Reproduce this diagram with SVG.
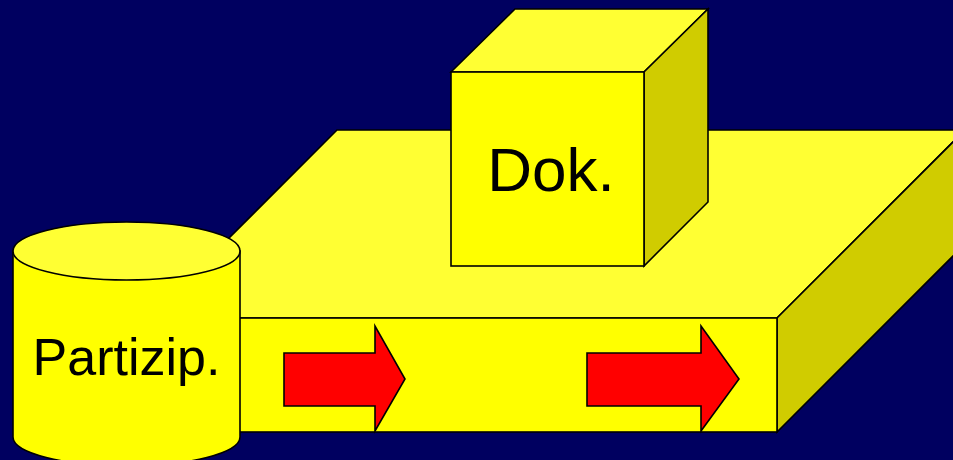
<svg xmlns="http://www.w3.org/2000/svg" width="953" height="460" viewBox="0 0 953 460">
<style>
.s{stroke:#000;stroke-width:1.6;stroke-linejoin:miter}
.top{fill:#FFFF33}
.front{fill:#FFFF00}
.side{fill:#D0CC00}
.arr{fill:#FF0000;stroke:#000;stroke-width:1.6}
.lbl{font-family:"Liberation Sans",Arial,sans-serif;fill:#000;text-anchor:middle}
</style>
<rect width="953" height="460" fill="#000060"/>
<g id="slab">
<polygon class="s top" points="337,130 965,130 777,318 149,318"/>
<polygon class="s side" points="777,318 965,130 965,244 777,432"/>
<rect class="s front" x="149" y="318" width="628" height="114"/>
</g>
<g id="dok">
<polygon class="s top" points="451,72 515,9 708,9 644,72"/>
<polygon class="s side" points="644,72 708,9 708,202 644,266"/>
<rect class="s front" x="451" y="72" width="193" height="194"/>
<text class="lbl" x="551" y="191" font-size="62">Dok.</text>
</g>
<g id="partizip">
<path class="s front" d="M13,251 L13,437 A113.5,29 0 0 0 240,437 L240,251 Z"/>
<ellipse class="s top" cx="126.5" cy="251" rx="113.5" ry="29"/>
<text class="lbl" x="126.5" y="375" font-size="52">Partizip.</text>
</g>
<g id="arrow1">
<polygon class="arr" points="284,353 375,353 375,326 405,379 375,431 375,406 284,406"/>
</g>
<g id="arrow2">
<polygon class="arr" points="587,353 701,353 701,326 739,379 701,431 701,406 587,406"/>
</g>
</svg>
